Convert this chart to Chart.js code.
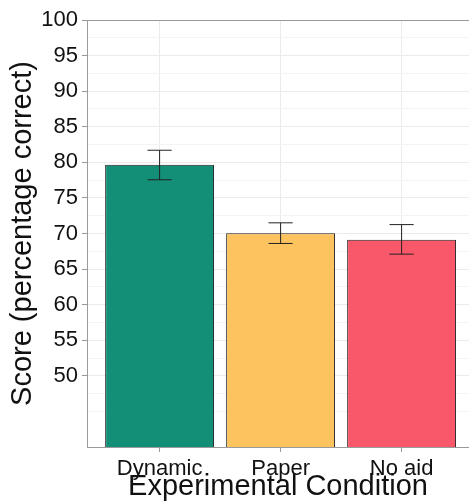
<!DOCTYPE html>
<html>
<head>
<meta charset="utf-8">
<script src="https://cdn.jsdelivr.net/npm/chart.js@4.4.0/dist/chart.umd.min.js"></script>
<style>
  body { margin: 0; background: #fff; }
  canvas { display: block; }
</style>
</head>
<body>
<canvas id="myChart" width="469" height="504"></canvas>
<script>
const conditions = ["Dynamic", "Paper", "No aid"];
const scores = [79.65, 70.05, 69.13];
const errLow = [77.55, 68.6, 67.1];
const errHigh = [81.7, 71.5, 71.25];
const barColors = ["#148f77", "#fdc35e", "#f8586a"];

const gridMajor = "#ebebeb";
const gridMinor = "#f4f4f4";
const frame = "#9a9a9a";

const errorBars = {
  id: "errorBars",
  afterDatasetsDraw(chart) {
    const x = chart.scales.x;
    const y = chart.scales.y;
    const ctx = chart.ctx;
    const half = x.getPixelForValue(1.1) - x.getPixelForValue(1);
    ctx.save();
    ctx.strokeStyle = "#222";
    ctx.lineWidth = 1;
    for (let i = 0; i < conditions.length; i++) {
      const px = x.getPixelForValue(i + 1);
      const top = y.getPixelForValue(errHigh[i]);
      const bot = y.getPixelForValue(errLow[i]);
      ctx.beginPath();
      ctx.moveTo(px, top);
      ctx.lineTo(px, bot);
      ctx.moveTo(px - half, top);
      ctx.lineTo(px + half, top);
      ctx.moveTo(px - half, bot);
      ctx.lineTo(px + half, bot);
      ctx.stroke();
    }
    ctx.restore();
  },
};

let myChart = document.getElementById("myChart").getContext("2d");

let barChart = new Chart(myChart, {
  type: "bar",
  data: {
    datasets: [
      {
        data: scores.map((v, i) => ({ x: i + 1, y: v })),
        backgroundColor: barColors,
        borderColor: "#222",
        borderWidth: 1,
        borderSkipped: false,
        barPercentage: 0.9,
        categoryPercentage: 1,
      },
    ],
  },
  plugins: [errorBars],
  options: {
    responsive: false,
    animation: false,
    layout: { padding: { top: 20, right: 0, bottom: 0, left: 0 } },
    plugins: {
      legend: { display: false },
      tooltip: { enabled: false },
    },
    scales: {
      x: {
        type: "linear",
        min: 0.4,
        max: 3.557,
        offset: false,
        afterBuildTicks: (s) => {
          s.ticks = conditions.map((c, i) => ({ value: i + 1 }));
        },
        afterFit: (s) => {
          s.height = 57;
        },
        ticks: {
          callback: (v) => conditions[v - 1],
          color: "#111",
          padding: 4,
          maxRotation: 0,
          font: { family: "'Liberation Sans', Arial, sans-serif", size: 22 },
        },
        grid: {
          offset: false,
          color: gridMajor,
          tickColor: frame,
          tickLength: 5,
        },
        border: { color: frame, width: 1 },
        title: {
          display: true,
          text: "Experimental Condition",
          color: "#111",
          padding: { top: 0, bottom: 0 },
          font: { family: "'Liberation Sans', Arial, sans-serif", size: 29 },
        },
      },
      y: {
        min: 40,
        max: 100,
        afterBuildTicks: (s) => {
          const t = [];
          for (let v = 40; v <= 100; v += 2.5) t.push({ value: v });
          s.ticks = t;
        },
        afterFit: (s) => {
          s.width = 87;
        },
        ticks: {
          autoSkip: false,
          callback: (v) => (v >= 50 && v % 5 === 0 ? String(v) : ""),
          color: "#111",
          padding: 4,
          font: { family: "'Liberation Sans', Arial, sans-serif", size: 22 },
        },
        grid: {
          color: (c) => {
            const v = c.tick ? c.tick.value : null;
            if (v === 100) return frame;
            if (v === null || v < 45) return "transparent";
            return v % 5 === 0 && v >= 50 ? gridMajor : gridMinor;
          },
          tickColor: (c) => {
            const v = c.tick ? c.tick.value : null;
            return v !== null && v >= 50 && v % 5 === 0 ? frame : "transparent";
          },
          tickLength: 5,
        },
        border: { color: frame, width: 1 },
        title: {
          display: true,
          text: "Score (percentage correct)",
          color: "#111",
          padding: { top: 6, bottom: 0 },
          font: { family: "'Liberation Sans', Arial, sans-serif", size: 29 },
        },
      },
    },
  },
});
</script>
</body>
</html>
